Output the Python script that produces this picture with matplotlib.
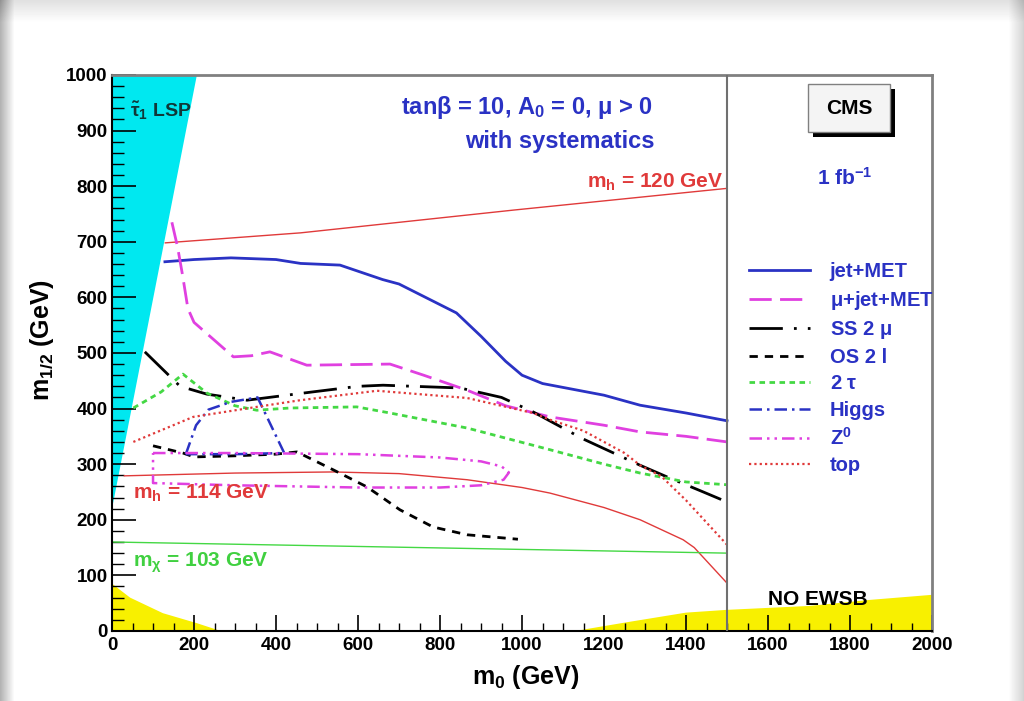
import numpy as np
import matplotlib
matplotlib.use("Agg")
import matplotlib.pyplot as plt
from matplotlib.lines import Line2D
from matplotlib.patches import Rectangle, Polygon

plt.rcParams["font.family"] = ["Liberation Sans", "DejaVu Sans"]
plt.rcParams["font.weight"] = "bold"
plt.rcParams["axes.labelweight"] = "bold"
plt.rcParams["mathtext.fontset"] = "custom"
plt.rcParams["mathtext.rm"] = "Liberation Sans:bold"
plt.rcParams["mathtext.it"] = "Liberation Sans:bold"
plt.rcParams["mathtext.bf"] = "Liberation Sans:bold"

# excluded regions
stau_lsp_m0 = [0, 207, 0]
stau_lsp_m12 = [1000, 1000, 220]
ewsb_left_m0 = [0, 0, 44, 124, 207, 265]
ewsb_left_m12 = [0, 85, 60, 32, 14, 0]
ewsb_right_m0 = [1130, 1250, 1400, 1500, 1700, 1850, 2000, 2000]
ewsb_right_m12 = [0, 15, 33, 38, 45, 56, 65, 0]

# Higgs / chargino mass isolines
mh120_m0 = [130, 460, 980, 1500]
mh120_m12 = [698, 716, 757, 796]
mh114_m0 = [30, 300, 540, 700, 866, 1000, 1068, 1200, 1288, 1393, 1420, 1500]
mh114_m12 = [279, 284, 286, 283, 272, 258, 248, 222, 200, 164, 150, 86]
mchi_m0 = [0, 1500]
mchi_m12 = [160, 140]

# 5 sigma discovery contours, 1 fb^-1
jetmet_m0 = [129, 200, 290, 400, 460, 556, 660, 700, 840, 900, 960, 1000,
             1050, 1100, 1200, 1288, 1400, 1500]
jetmet_m12 = [664, 668, 671, 668, 661, 658, 632, 624, 572, 530, 485, 460,
              445, 438, 424, 406, 392, 378]
mujet_m0 = [146, 160, 172, 185, 200, 296, 340, 385, 475, 678, 760, 866,
            960, 1068, 1200, 1288, 1400, 1500]
mujet_m12 = [735, 690, 640, 580, 555, 493, 495, 502, 478, 480, 460, 433,
             405, 385, 370, 358, 350, 340]
ss2mu_m0 = [80, 166, 231, 329, 490, 600, 661, 849, 950, 1027, 1150, 1288,
            1354, 1442, 1500]
ss2mu_m12 = [502, 440, 426, 415, 430, 440, 442, 437, 420, 394, 345, 298,
             277, 250, 232]
os2l_m0 = [100, 173, 200, 300, 400, 451, 539, 622, 702, 783, 866, 990]
os2l_m12 = [333, 320, 313, 315, 318, 322, 290, 259, 218, 187, 173, 165]
tau2_m0 = [52, 120, 173, 231, 300, 353, 434, 597, 678, 866, 1068, 1200,
           1288, 1400, 1500]
tau2_m12 = [401, 430, 462, 428, 405, 397, 401, 403, 392, 365, 326, 300,
            284, 268, 263]
higgs_m0 = [180, 205, 235, 290, 355, 420, 300, 180]
higgs_m12 = [318, 370, 398, 412, 420, 320, 318, 318]
z0_m0 = [100, 300, 600, 800, 900, 950, 968, 955, 900, 800, 600, 300, 100, 100]
z0_m12 = [320, 320, 318, 312, 305, 296, 285, 272, 262, 258, 258, 262, 266, 320]
top_m0 = [52, 198, 353, 459, 646, 866, 1027, 1068, 1150, 1250, 1288, 1340,
          1400, 1450, 1500]
top_m12 = [340, 385, 403, 415, 432, 419, 392, 380, 360, 320, 298, 278,
           235, 195, 155]

x_ticks = [0, 200, 400, 600, 800, 1000, 1200, 1400, 1600, 1800, 2000]
y_ticks = [0, 100, 200, 300, 400, 500, 600, 700, 800, 900, 1000]

blue = "#2a32c4"
magenta = "#e040e0"
green = "#44d844"
red = "#e03a3a"

fig = plt.figure(figsize=(10.24, 7.01), dpi=100)

# slide background with grey border fading in
bg = np.ones((701, 1024))
cols = np.arange(1024)
rows = np.arange(701)
bg -= 0.30 * np.clip(1 - cols / 14.0, 0, 1)[None, :]
bg -= 0.18 * np.clip((cols - 1008) / 16.0, 0, 1)[None, :]
bg -= 0.12 * np.clip(1 - rows / 22.0, 0, 1)[:, None]
bg_ax = fig.add_axes([0, 0, 1, 1], zorder=-10)
bg_ax.imshow(bg, cmap="gray", vmin=0, vmax=1, aspect="auto")
bg_ax.axis("off")

ax = fig.add_axes([0.1094, 0.0999, 0.8008, 0.7932])
ax.set_xlim(0, 2000)
ax.set_ylim(0, 1000)

ax.add_patch(Polygon(np.column_stack([stau_lsp_m0, stau_lsp_m12]),
                     closed=True, facecolor="#00e8f0", edgecolor="none", zorder=1))
ax.fill(ewsb_left_m0, ewsb_left_m12, color="#f8f000", lw=0, zorder=1)
ax.fill(ewsb_right_m0, ewsb_right_m12, color="#f8f000", lw=0, zorder=1)

ax.plot(mh120_m0, mh120_m12, color=red, lw=1.0, zorder=2)
ax.plot(mh114_m0, mh114_m12, color=red, lw=1.0, zorder=2)
ax.plot(mchi_m0, mchi_m12, color=green, lw=1.0, zorder=2)

curves = [
    (jetmet_m0, jetmet_m12, "jet+MET", dict(color=blue, lw=2.0, ls="-")),
    (mujet_m0, mujet_m12, r"$\mu$+jet+MET",
     dict(color=magenta, lw=2.0, ls=(0, (8, 3)))),
    (ss2mu_m0, ss2mu_m12, r"SS 2 $\mu$",
     dict(color="black", lw=2.0, ls=(0, (12, 4, 1, 4)))),
    (os2l_m0, os2l_m12, "OS 2 l",
     dict(color="black", lw=2.0, ls=(0, (3, 2.5)))),
    (tau2_m0, tau2_m12, r"2 $\tau$",
     dict(color=green, lw=2.0, ls=(0, (2, 1.6)))),
    (higgs_m0, higgs_m12, "Higgs",
     dict(color=blue, lw=1.8, ls=(0, (5, 2, 1, 2)))),
    (z0_m0, z0_m12, r"Z$^{0}$",
     dict(color=magenta, lw=1.8, ls=(0, (5, 2, 1, 2, 1, 2)))),
    (top_m0, top_m12, "top",
     dict(color=red, lw=1.6, ls=(0, (1, 1.4)))),
]
handles = []
for xs, ys, label, style in curves:
    ax.plot(xs, ys, zorder=3, **style)
    handles.append(Line2D([], [], label=label, **style))

ax.axvline(1500, color="#707070", lw=1.5, zorder=4)

# annotations
ax.text(1490, 787, r"m$_{h}$ = 120 GeV", color=red, fontsize=15,
        ha="right", va="bottom")
ax.text(52, 248, r"m$_{h}$ = 114 GeV", color=red, fontsize=15,
        ha="left", va="center")
ax.text(52, 122, r"m$_{\chi}$ = 103 GeV", color="#40d040", fontsize=15,
        ha="left", va="center")
ax.text(44, 935, r"$\tilde{\tau}_{1}$ LSP", color="#103838", fontsize=14,
        ha="left", va="center")
ax.text(1012, 941, r"tan$\beta$ = 10, A$_{0}$ = 0, $\mu$ > 0", color=blue,
        fontsize=17, ha="center", va="center")
ax.text(1093, 881, "with systematics", color=blue, fontsize=17,
        ha="center", va="center")
ax.text(1788, 815, r"1 fb$^{-1}$", color=blue, fontsize=15,
        ha="center", va="center")
ax.text(1722, 56, "NO EWSB", color="black", fontsize=15,
        ha="center", va="center")

ax.add_patch(Rectangle((1710, 888), 200, 87, facecolor="black",
                       edgecolor="none", zorder=5))
ax.add_patch(Rectangle((1698, 897), 200, 87, facecolor="#f4f4f4",
                       edgecolor="#808080", lw=1, zorder=6))
ax.text(1798, 940, "CMS", color="black", fontsize=15, ha="center",
        va="center", zorder=7)

leg = ax.legend(handles=handles, loc="upper left",
                bbox_to_anchor=(0.777, 0.663), frameon=False, fontsize=14.5,
                handlelength=3.0, handletextpad=1.0, labelspacing=0.36,
                borderaxespad=0, borderpad=0, labelcolor=blue)

# axes styling
ax.set_xticks(x_ticks)
ax.set_yticks(y_ticks)
ax.set_xticks(np.arange(0, 2001, 50), minor=True)
ax.set_yticks(np.arange(0, 1001, 20), minor=True)
ax.tick_params(axis="x", which="major", direction="in", length=11.5,
               width=1.2, labelsize=13.5, pad=4)
ax.tick_params(axis="x", which="minor", direction="in", length=5.8, width=1.0)
ax.tick_params(axis="y", which="major", direction="in", length=17,
               width=1.2, labelsize=13.5, pad=3)
ax.tick_params(axis="y", which="minor", direction="in", length=8.6, width=1.0)
for s in ("top", "right"):
    ax.spines[s].set_color("#808080")
    ax.spines[s].set_linewidth(2)
for s in ("left", "bottom"):
    ax.spines[s].set_color("black")
    ax.spines[s].set_linewidth(1.5)

ax.set_xlabel(r"m$_{0}$ (GeV)", fontsize=18)
ax.set_ylabel(r"m$_{1/2}$ (GeV)", fontsize=18)
ax.xaxis.set_label_coords(0.504, -0.058)
ax.yaxis.set_label_coords(-0.068, 0.523)

fig.savefig("out.png", dpi=100)
